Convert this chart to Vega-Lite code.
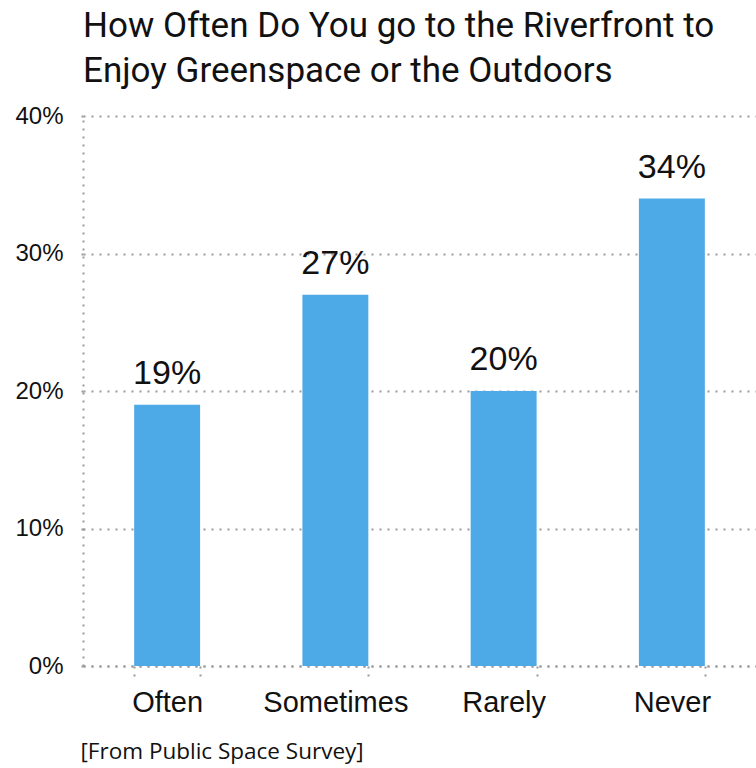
{
  "$schema": "https://vega.github.io/schema/vega-lite/v6.json",
  "width": 673,
  "height": 550,
  "autosize": {"type": "none"},
  "padding": {"left": 83, "top": 116, "right": 0, "bottom": 102},
  "background": "white",
  "title": {
    "text": ["How Often Do You go to the Riverfront to", "Enjoy Greenspace or the Outdoors"],
    "anchor": "start",
    "frame": "group",
    "font": "Roboto, Liberation Sans",
    "fontSize": 35,
    "fontWeight": "normal",
    "lineHeight": 45,
    "color": "#111111",
    "offset": 15
  },
  "data": {
    "values": [
      {"category": "Often", "share": 0.19},
      {"category": "Sometimes", "share": 0.27},
      {"category": "Rarely", "share": 0.20},
      {"category": "Never", "share": 0.34}
    ]
  },
  "encoding": {
    "x": {
      "field": "category",
      "type": "nominal",
      "sort": null,
      "scale": {"paddingInner": 0.608, "paddingOuter": 0.304},
      "axis": {
        "title": "[From Public Space Survey]",
        "titleFont": "Open Sans",
        "titleFontSize": 22.5,
        "titleFontWeight": "normal",
        "titleColor": "#111111",
        "titleX": -3,
        "titleY": 92,
        "titleAlign": "left",
        "titleBaseline": "alphabetic",
        "labelAngle": 0,
        "labelFont": "Liberation Sans",
        "labelFontSize": 29,
        "labelColor": "#111111",
        "labelPadding": 12,
        "tickBand": "extent",
        "ticks": true,
        "tickSize": 10,
        "tickColor": "#999999",
        "tickDash": [2, 6],
        "tickWidth": 2,
        "domain": true,
        "domainColor": "#999999",
        "domainDash": [2, 6],
        "domainWidth": 2,
        "grid": false
      }
    },
    "y": {
      "field": "share",
      "type": "quantitative",
      "scale": {"domain": [0, 0.4], "nice": false},
      "axis": {
        "title": null,
        "values": [0, 0.1, 0.2, 0.3, 0.4],
        "format": ".0%",
        "labelFont": "Liberation Sans",
        "labelFontSize": 24,
        "labelColor": "#111111",
        "labelPadding": 14,
        "ticks": true,
        "tickSize": 6,
        "tickColor": "#999999",
        "tickDash": [2, 6],
        "tickWidth": 2,
        "domain": true,
        "domainColor": "#999999",
        "domainDash": [2, 6],
        "domainWidth": 2,
        "grid": true,
        "gridColor": "#999999",
        "gridDash": [2, 6],
        "gridWidth": 2
      }
    }
  },
  "layer": [
    {"mark": {"type": "bar", "color": "#4EAAE7"}},
    {
      "mark": {"type": "text", "dy": -21, "baseline": "alphabetic", "font": "Liberation Sans", "fontSize": 34, "color": "#111111"},
      "encoding": {"text": {"field": "share", "type": "quantitative", "format": ".0%"}}
    }
  ],
  "config": {"view": {"stroke": null}}
}
